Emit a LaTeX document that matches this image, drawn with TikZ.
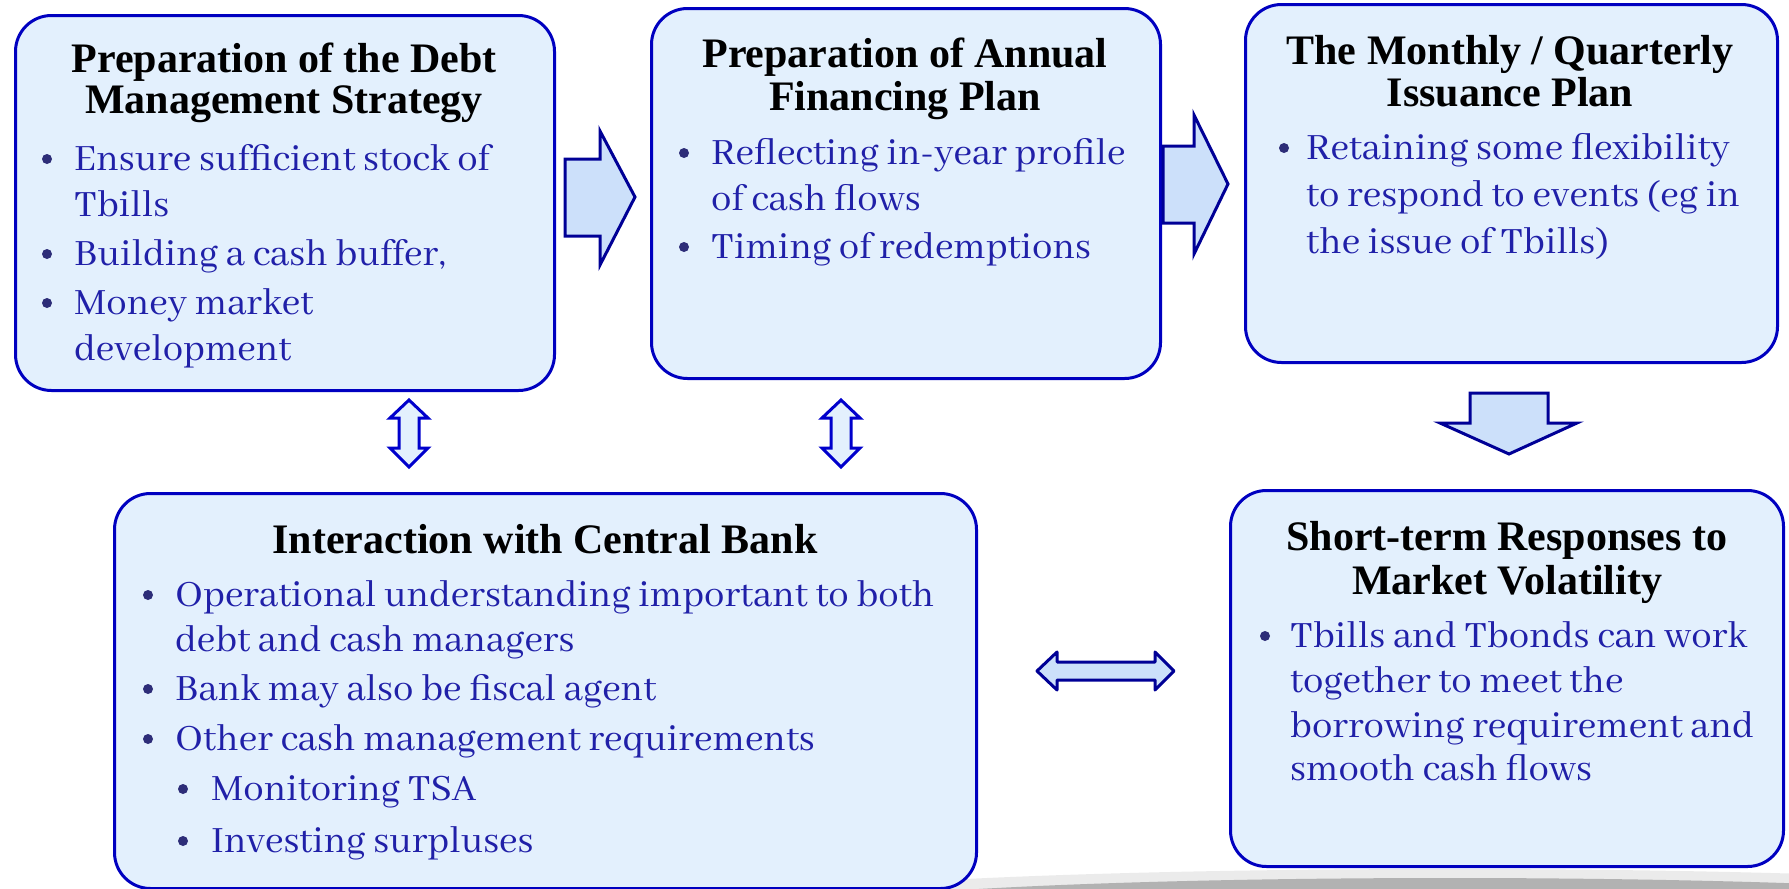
\documentclass[tikz,border=0pt]{standalone}
\usepackage{fontspec}
\setmainfont{Abhaya Libre}
\newfontfamily\headfont{Liberation Serif}
\definecolor{boxline}{RGB}{0,0,192}
\definecolor{boxfill}{RGB}{227,240,253}
\definecolor{arrowline}{RGB}{0,0,150}
\definecolor{arrowfill}{RGB}{204,224,250}
\definecolor{dblline}{RGB}{0,0,204}
\definecolor{bodytext}{RGB}{32,32,168}
\definecolor{bulletcol}{RGB}{45,45,120}
\begin{document}
\begin{tikzpicture}[x=1pt,y=-1pt,
  panel/.style={draw=boxline, line width=3pt, fill=boxfill, rounded corners=36pt,
    anchor=north west, inner sep=0pt},
  blockarrow/.style={draw=arrowline, line width=3pt, fill=arrowfill, line join=miter},
  dblarrow/.style={draw=dblline, line width=3pt, fill=boxfill, line join=miter},
  hdblarrow/.style={draw=arrowline, line width=3pt, fill=arrowfill, line join=round},
  heading/.style={font=\headfont\fontsize{42}{44}\selectfont\bfseries, text=black, anchor=base, inner sep=0pt},
  line/.style={font=\fontsize{40.7}{46}\selectfont, text=bodytext, anchor=base west, inner sep=0pt},
  dot/.style={circle, fill=bulletcol, inner sep=0pt, minimum size=10pt}]
\useasboundingbox (0,0) rectangle (1789,889);

% soft floor shadow
\begin{scope}
  \clip (0,0) rectangle (1789,889);
  \fill[black!8] (1450,905) ellipse [x radius=700, y radius=36];
  \fill[black!30] (1450,912) ellipse [x radius=640, y radius=34];
\end{scope}

% panels
\node[panel, minimum width=539pt, minimum height=375pt] (p1) at (14,14) {};
\node[panel, minimum width=509pt, minimum height=370pt] (p2) at (650,7) {};
\node[panel, minimum width=532pt, minimum height=358pt] (p3) at (1244,3) {};
\node[panel, minimum width=862pt, minimum height=395pt] (p4) at (113,492) {};
\node[panel, minimum width=553pt, minimum height=376pt] (p5) at (1229,489) {};

% block arrows
\draw[blockarrow] (565,159) -- (600,159) -- (600,131) -- (635,197) -- (600,265) -- (600,236) -- (565,236) -- cycle;
\draw[blockarrow] (1163,146) -- (1194,146) -- (1194,115) -- (1228,184) -- (1194,254) -- (1194,223) -- (1163,223) -- cycle;
\draw[blockarrow] (1470,393) -- (1548,393) -- (1548,423) -- (1577,423) -- (1509,454) -- (1440,423) -- (1470,423) -- cycle;

% two-way arrows
\draw[dblarrow] (409,400) -- (428,418) -- (419,418) -- (419,448) -- (428,448) -- (409,467)
  -- (390,448) -- (399,448) -- (399,418) -- (390,418) -- cycle;
\draw[dblarrow] (841,400) -- (860,418) -- (851,418) -- (851,448) -- (860,448) -- (841,467)
  -- (822,448) -- (831,448) -- (831,418) -- (822,418) -- cycle;
\draw[hdblarrow] (1037,671) -- (1057,652) -- (1057,662) -- (1155,662) -- (1155,652) -- (1174,671)
  -- (1155,690) -- (1155,680) -- (1057,680) -- (1057,690) -- cycle;

% panel 1
\node[heading] (h1a) at (284,72) {Preparation of the Debt};
\node[heading] (h1b) at (284,113) {Management Strategy};
\node[dot] (d1a) at (47,159) {};
\node[line] (l1a) at (74,170) {Ensure sufficient stock of};
\node[line] (l1b) at (74,216) {Tbills};
\node[dot] (d1b) at (47,254) {};
\node[line] (l1c) at (74,265) {Building a cash buffer,};
\node[dot] (d1c) at (47,303) {};
\node[line] (l1d) at (74,314) {Money market};
\node[line] (l1e) at (74,360) {development};

% panel 2
\node[heading] (h2a) at (905,67) {Preparation of Annual};
\node[heading] (h2b) at (905,110) {Financing Plan};
\node[dot] (d2a) at (684,153) {};
\node[line] (l2a) at (711,164) {Reflecting in-year profile};
\node[line] (l2b) at (711,210) {of cash flows};
\node[dot] (d2b) at (684,247) {};
\node[line] (l2c) at (711,258) {Timing of redemptions};

% panel 3
\node[heading] (h3a) at (1510,64) {The Monthly / Quarterly};
\node[heading] (h3b) at (1510,106) {Issuance Plan};
\node[dot] (d3a) at (1284,148) {};
\node[line] (l3a) at (1306,159) {Retaining some flexibility};
\node[line] (l3b) at (1306,206) {to respond to events (eg in};
\node[line] (l3c) at (1306,253) {the issue of Tbills)};

% panel 4
\node[heading] (h4a) at (545,553) {Interaction with Central Bank};
\node[dot] (d4a) at (148,595) {};
\node[line] (l4a) at (175,606) {Operational understanding important to both};
\node[line] (l4b) at (175,651) {debt and cash managers};
\node[dot] (d4b) at (148,689) {};
\node[line] (l4c) at (175,700) {Bank may also be fiscal agent};
\node[dot] (d4c) at (148,739) {};
\node[line] (l4d) at (175,750) {Other cash management requirements};
\node[dot] (d4d) at (183,789) {};
\node[line] (l4e) at (211,800) {Monitoring TSA};
\node[dot] (d4e) at (183,841) {};
\node[line] (l4f) at (211,852) {Investing surpluses};

% panel 5
\node[heading] (h5a) at (1507,550) {Short-term Responses to};
\node[heading] (h5b) at (1507,594) {Market Volatility};
\node[dot] (d5a) at (1265,636) {};
\node[line] (l5a) at (1290,647) {Tbills and Tbonds can work};
\node[line] (l5b) at (1290,692) {together to meet the};
\node[line] (l5c) at (1290,737) {borrowing requirement and};
\node[line] (l5d) at (1290,780) {smooth cash flows};
\end{tikzpicture}
\end{document}
